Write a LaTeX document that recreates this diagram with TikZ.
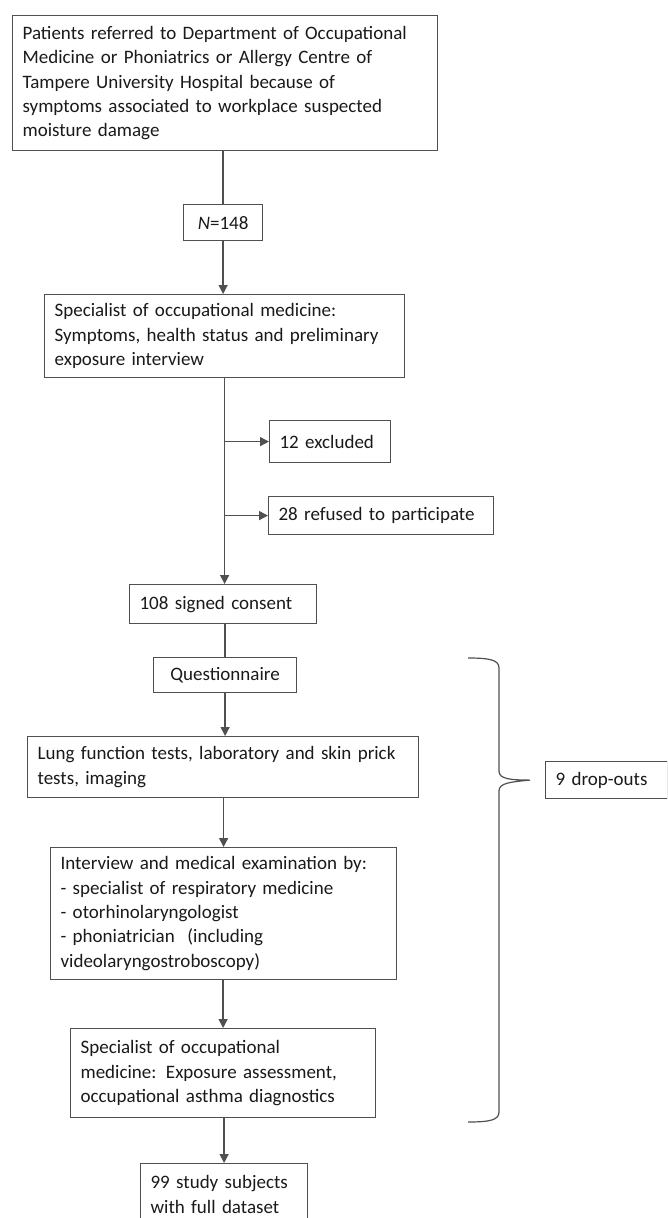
\documentclass[tikz,border=0pt]{standalone}
\usepackage{fontspec}
\setmainfont{Carlito}
\usetikzlibrary{arrows.meta}
\definecolor{linegray}{HTML}{505050}
\definecolor{txt}{HTML}{1A1A1A}
\tikzset{
  flowbox/.style={draw=linegray, line width=1.2pt, anchor=north west, inner xsep=10pt, inner ysep=0pt,
    align=left, text=txt, font=\fontsize{19}{24.3}\selectfont},
  cbox/.style={flowbox, align=center},
  conn/.style={draw=linegray, line width=1.3pt},
  arr/.style={conn, -{Triangle[length=9pt,width=9pt]}},
}
\begin{document}
\begin{tikzpicture}[x=1pt,y=-1pt]
\clip (0,0) rectangle (667,1218);
\fill[white] (0,0) rectangle (667,1218);
% nodes
\node[flowbox, text width=405pt, minimum height=135pt] (ref) at (12,15)
 {Patients referred to Department of Occupational\\Medicine or Phoniatrics or Allergy Centre of\\Tampere University Hospital because of\\symptoms associated to workplace suspected\\moisture damage};
\node[cbox, text width=59pt, minimum height=36pt] (n) at (183,204) {\textit{N}=148};
\node[flowbox, text width=340pt, minimum height=83pt] (spec) at (44,294)
 {Specialist of occupational medicine:\\Symptoms, health status and preliminary\\exposure interview};
\node[flowbox, text width=101pt, minimum height=42pt] (excl) at (269,420) {12 excluded};
\node[flowbox, text width=205pt, minimum height=38pt] (refu) at (268,496) {28 refused to participate};
\node[flowbox, text width=167pt, minimum height=39pt] (sign) at (129,584) {108 signed consent};
\node[cbox, text width=123pt, minimum height=35pt] (quest) at (153,657) {Questionnaire};
\node[flowbox, text width=371pt, minimum height=61pt] (lung) at (27,736)
 {Lung function tests, laboratory and skin prick\\tests, imaging};
\node[flowbox, text width=326pt, minimum height=132pt] (inter) at (50,847)
 {Interview and medical examination by:\\- specialist of respiratory medicine\\- otorhinolaryngologist\\- phoniatrician~ (including\\videolaryngostroboscopy)};
\node[flowbox, text width=285pt, minimum height=89pt] (spec2) at (70,1028)
 {Specialist of occupational\\medicine: Exposure assessment,\\occupational asthma diagnostics};
\node[flowbox, text width=147pt, minimum height=62pt] (final) at (140,1163)
 {99 study subjects\\with full dataset};
\node[flowbox, text width=102pt, minimum height=37pt] (drop) at (545,761) {9 drop-outs};
% connectors
\draw[conn] (n.north |- ref.south) -- (n.north);
\draw[arr] (n.south) -- (n.south |- spec.north);
\draw[arr] (spec.south) -- (spec.south |- sign.north);
\draw[arr] (excl.west -| spec.south) -- (excl.west);
\draw[arr] (refu.west -| spec.south) -- (refu.west);
\draw[conn] (quest.north |- sign.south) -- (quest.north);
\draw[arr] (quest.south) -- (quest.south |- lung.north);
\draw[arr] (inter.north |- lung.south) -- (inter.north);
\draw[arr] (spec2.north |- inter.south) -- (spec2.north);
\draw[arr] (final.north |- spec2.south) -- (final.north);
% brace
\coordinate (btop) at (468,658);
\coordinate (bbot) at (468,1122);
\coordinate (btip) at ([xshift=-15pt]drop.west);
\draw[conn, line width=1.2pt] (btop) .. controls (490,658) and (499,660) .. (499,668)
  -- (499,771) .. controls (499,779) and (510,780) .. (btip)
  .. controls (510,782) and (499,783) .. (499,791)
  -- (499,1112) .. controls (499,1120) and (490,1122) .. (bbot);
\end{tikzpicture}
\end{document}
